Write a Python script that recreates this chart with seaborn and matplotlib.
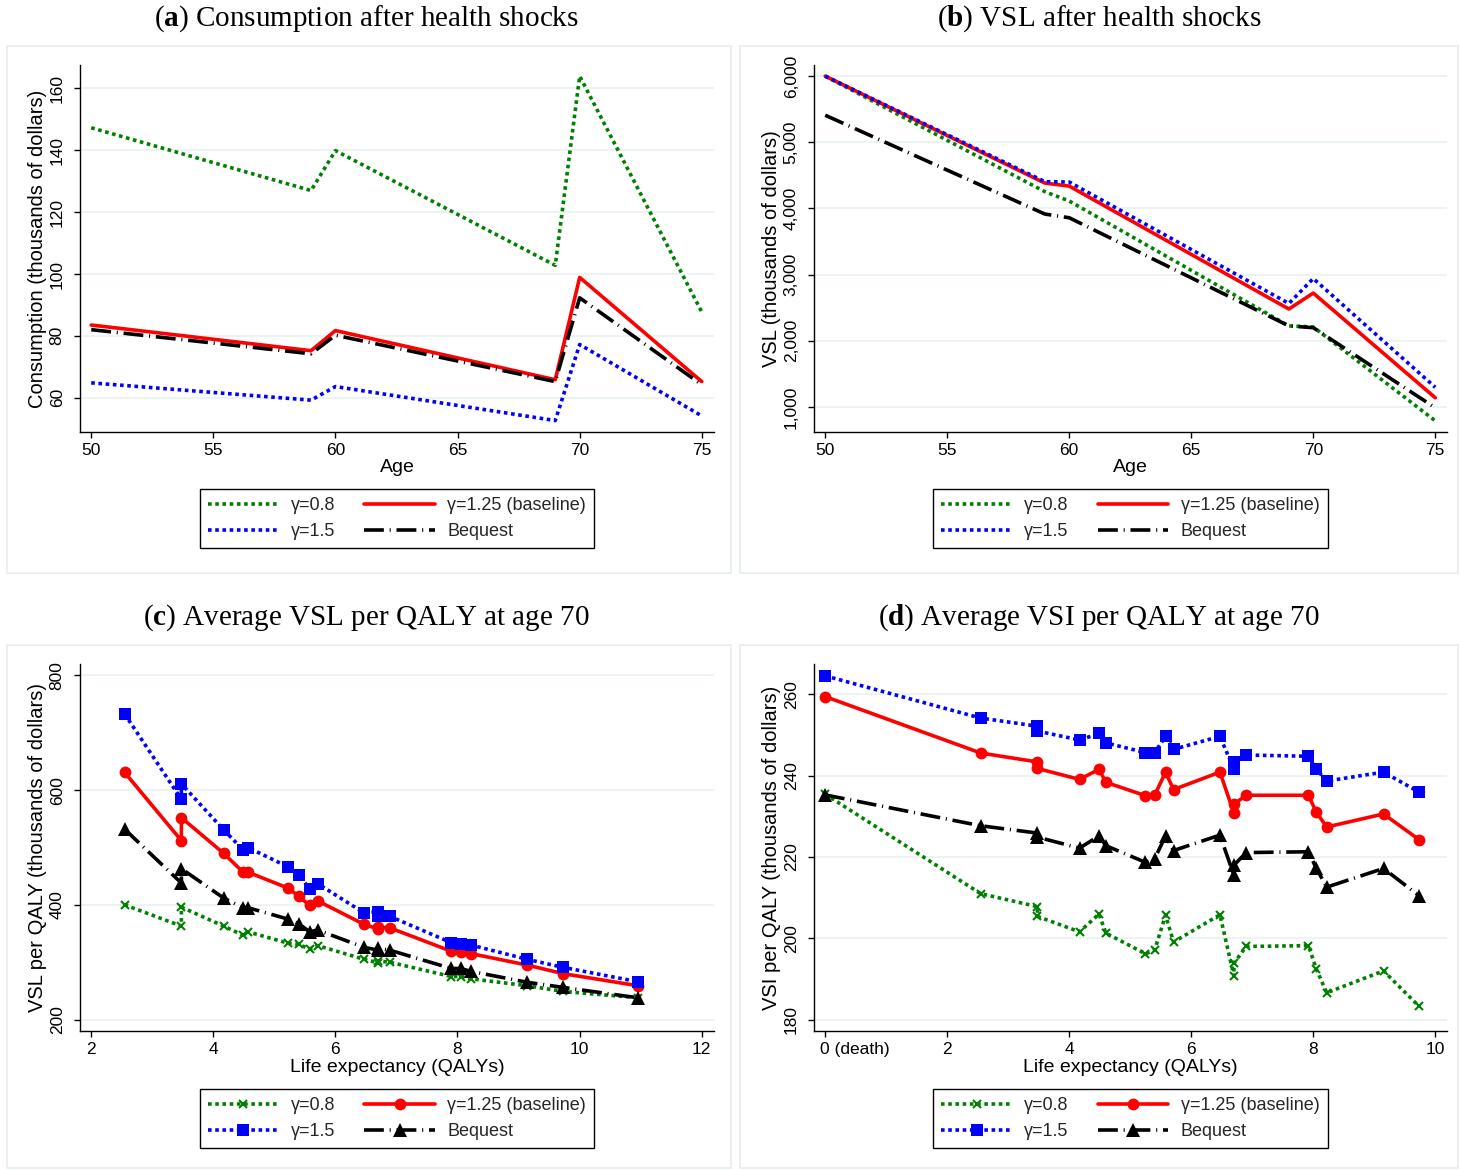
import matplotlib
matplotlib.use("Agg")
import matplotlib.pyplot as plt
import matplotlib.transforms as mtransforms
from matplotlib.patches import Rectangle
from matplotlib.ticker import StrMethodFormatter
import seaborn as sns

W, H = 1461, 1170

# (a) consumption and (b) VSL after health shocks, by age
AGE = [50, 59, 60, 69, 70, 75]
CONS_G08 = [147.3, 127.0, 139.9, 102.8, 164.0, 87.7]
CONS_G125 = [83.5, 75.2, 81.7, 65.8, 98.9, 65.2]
CONS_G15 = [64.8, 59.2, 63.6, 52.6, 77.2, 54.1]
CONS_BEQ = [82.0, 74.2, 80.2, 65.2, 92.3, 64.2]

VSL_G08 = [6000, 4254, 4113, 2226, 2210, 792]
VSL_G125 = [6000, 4384, 4338, 2481, 2722, 1140]
VSL_G15 = [6000, 4406, 4400, 2565, 2942, 1298]
VSL_BEQ = [5409, 3916, 3860, 2226, 2199, 988]

# (c) average VSL per QALY at age 70
QALY_C = [2.55, 3.48, 3.48, 4.17, 4.49, 4.57, 5.23, 5.40, 5.58, 5.71,
          6.47, 6.70, 6.70, 6.89, 7.90, 8.05, 8.22, 9.14, 9.73, 10.95]
VSLQ_G08 = [400, 363, 396, 363, 347, 353, 333, 331, 323, 329,
            305, 299, 302, 300, 275, 275, 271, 259, 249, 238]
VSLQ_G125 = [631, 512, 552, 490, 457, 457, 429, 415, 399, 407,
             366, 358, 361, 360, 319, 318, 315, 295, 280, 259]
VSLQ_G15 = [733, 584, 611, 531, 496, 500, 466, 452, 428, 437,
            386, 388, 381, 380, 334, 332, 330, 305, 291, 266]
VSLQ_BEQ = [532, 438, 463, 412, 395, 395, 375, 367, 353, 356,
            326, 321, 324, 321, 289, 289, 284, 265, 256, 238]

# (d) average VSI per QALY at age 70
QALY_D = [0, 2.55, 3.48, 3.48, 4.17, 4.49, 4.60, 5.25, 5.40, 5.58,
          5.71, 6.47, 6.70, 6.70, 6.90, 7.92, 8.05, 8.22, 9.15, 9.73]
VSI_G08 = [235.5, 211.0, 207.8, 205.4, 201.6, 206.0, 201.3, 196.2, 197.1, 205.7,
           199.1, 205.8, 190.7, 193.9, 198.0, 198.2, 192.4, 186.6, 192.0, 183.3]
VSI_G125 = [259.5, 245.6, 243.4, 241.8, 239.1, 241.6, 238.4, 235.1, 235.2, 240.9,
            236.6, 240.9, 230.8, 233.0, 235.2, 235.2, 231.0, 227.4, 230.6, 224.3]
VSI_G15 = [264.6, 254.2, 252.2, 251.0, 248.8, 250.4, 248.1, 245.7, 245.7, 249.7,
           246.5, 249.7, 241.6, 243.4, 245.1, 244.8, 241.6, 238.7, 240.9, 236.0]
VSI_BEQ = [235.3, 227.7, 225.9, 224.9, 222.2, 225.2, 222.8, 218.7, 219.6, 225.2,
           221.6, 225.4, 215.5, 218.0, 221.1, 221.3, 217.2, 212.6, 217.2, 210.5]

LABELS = {"g08": "γ=0.8", "g125": "γ=1.25 (baseline)", "g15": "γ=1.5", "beq": "Bequest"}
STYLES = {
    "g08": dict(color="#008000", ls=(0, (1, 1)), marker="x", ms=6, mew=1.5),
    "g125": dict(color="#ff0000", ls="-", marker="o", ms=8.5, mew=0),
    "g15": dict(color="#0000ff", ls=(0, (1, 1)), marker="s", ms=8.5, mew=0),
    "beq": dict(color="black", ls=(0, (5.5, 1.6, 0.3, 1.6)), marker="^", ms=9.5, mew=0),
}
LW = 2.6


def rect(x0, y0, x1, y1):
    return [x0 / W, 1 - y1 / H, (x1 - x0) / W, (y1 - y0) / H]


def draw_panel(ax, x, series, markers):
    lines = {}
    for key in ["g08", "g125", "g15", "beq"]:
        st = STYLES[key]
        kw = dict(color=st["color"], linewidth=LW, linestyle=st["ls"])
        if markers:
            kw.update(marker=st["marker"], markersize=st["ms"], markeredgewidth=st["mew"],
                      markeredgecolor=st["color"], markerfacecolor=st["color"])
        sns.lineplot(x=x, y=series[key], ax=ax, sort=False, estimator=None, **kw)
        lines[key] = ax.lines[-1]
        lines[key].set_label(LABELS[key])
    order = ["g08", "g15", "g125", "beq"]
    leg = ax.legend([lines[k] for k in order], [LABELS[k] for k in order],
                    ncol=2, loc="upper center", fontsize=13, frameon=True,
                    fancybox=False, edgecolor="black", framealpha=1,
                    handlelength=3.9, handletextpad=0.7, columnspacing=1.6,
                    labelspacing=0.5, borderpad=0.45, borderaxespad=0, numpoints=1)
    leg.get_frame().set_linewidth(1.0)
    return leg


def style_axes(ax, xlim, ylim, xticks, yticks, xlabel, ylabel):
    ax.set_xlim(*xlim)
    ax.set_ylim(*ylim)
    ax.set_xticks(xticks)
    ax.set_yticks(yticks)
    ax.set_xlabel(xlabel, fontsize=14, labelpad=1, color="black")
    ax.set_ylabel(ylabel, fontsize=14.5, labelpad=2, color="black")
    ax.grid(axis="y", color="#eaf2f3", lw=1.3)
    ax.set_axisbelow(True)
    for s in ("top", "right"):
        ax.spines[s].set_visible(False)
    for s in ("left", "bottom"):
        ax.spines[s].set_color("black")
        ax.spines[s].set_linewidth(1.0)
    ax.tick_params(axis="both", direction="out", length=4, width=1, color="black",
                   labelsize=12.5, labelcolor="black", left=True, bottom=True)
    ax.tick_params(axis="y", labelrotation=90, pad=7)
    ax.tick_params(axis="x", pad=4)
    plt.setp(ax.get_yticklabels(), va="center")


def main():
    sns.set_theme(style="ticks")
    plt.rcParams["font.family"] = ["Liberation Sans", "DejaVu Sans"]
    plt.rcParams["mathtext.fontset"] = "custom"
    plt.rcParams["mathtext.rm"] = "Liberation Serif"
    plt.rcParams["mathtext.bf"] = "Liberation Serif:bold"

    fig = plt.figure(figsize=(W / 100, H / 100), dpi=100)
    fig.patch.set_facecolor("white")

    # panel frames
    for x0, y0, x1, y1 in [(7, 46, 731, 573), (740, 46, 1458, 573),
                           (7, 645, 731, 1168), (740, 645, 1458, 1168)]:
        fig.add_artist(Rectangle((x0 / W, 1 - y1 / H), (x1 - x0) / W, (y1 - y0) / H,
                                 transform=fig.transFigure, fill=False,
                                 edgecolor="#e6eef0", lw=1.2))

    titles = [(366, 19, r"($\mathbf{a}$) Consumption after health shocks"),
              (1099, 19, r"($\mathbf{b}$) VSL after health shocks"),
              (366, 618, r"($\mathbf{c}$) Average VSL per QALY at age 70"),
              (1099, 618, r"($\mathbf{d}$) Average VSI per QALY at age 70")]
    for x, y, t in titles:
        fig.text(x / W, 1 - y / H, t, ha="center", va="center", fontsize=21,
                 family="Liberation Serif", color="black")

    # (a)
    ax = fig.add_axes(rect(80, 65, 714, 432))
    leg = draw_panel(ax, AGE, {"g08": CONS_G08, "g125": CONS_G125,
                               "g15": CONS_G15, "beq": CONS_BEQ}, False)
    leg.set_bbox_to_anchor((397 / W, 1 - 489 / H), transform=fig.transFigure)
    style_axes(ax, (49.54, 75.5), (48.9, 167.6), range(50, 76, 5), range(60, 161, 20),
               "Age", "Consumption (thousands of dollars)")

    # (b)
    ax = fig.add_axes(rect(814, 65, 1447, 432))
    leg = draw_panel(ax, AGE, {"g08": VSL_G08, "g125": VSL_G125,
                               "g15": VSL_G15, "beq": VSL_BEQ}, False)
    leg.set_bbox_to_anchor((1130.5 / W, 1 - 489 / H), transform=fig.transFigure)
    style_axes(ax, (49.54, 75.48), (623, 6168), range(50, 76, 5), range(1000, 6001, 1000),
               "Age", "VSL (thousands of dollars)")
    ax.yaxis.set_major_formatter(StrMethodFormatter("{x:,.0f}"))
    plt.setp(ax.get_yticklabels(), va="center")

    # (c)
    ax = fig.add_axes(rect(80, 664, 714, 1031))
    leg = draw_panel(ax, QALY_C, {"g08": VSLQ_G08, "g125": VSLQ_G125,
                                  "g15": VSLQ_G15, "beq": VSLQ_BEQ}, True)
    leg.set_bbox_to_anchor((397 / W, 1 - 1089 / H), transform=fig.transFigure)
    style_axes(ax, (1.82, 12.2), (180, 820), range(2, 13, 2), range(200, 801, 200),
               "Life expectancy (QALYs)", "VSL per QALY (thousands of dollars)")

    # (d)
    ax = fig.add_axes(rect(814, 664, 1447, 1031))
    leg = draw_panel(ax, QALY_D, {"g08": VSI_G08, "g125": VSI_G125,
                                  "g15": VSI_G15, "beq": VSI_BEQ}, True)
    leg.set_bbox_to_anchor((1130.5 / W, 1 - 1089 / H), transform=fig.transFigure)
    style_axes(ax, (-0.18, 10.19), (177.2, 267.5), range(0, 11, 2), range(180, 261, 20),
               "Life expectancy (QALYs)", "VSI per QALY (thousands of dollars)")
    ax.set_xticks(range(0, 11, 2), labels=["0 (death)", "2", "4", "6", "8", "10"])
    first = ax.get_xticklabels()[0]
    first.set_ha("left")
    first.set_transform(first.get_transform()
                        + mtransforms.ScaledTranslation(-3.4 / 72, 0, fig.dpi_scale_trans))

    fig.savefig("out.png", dpi=100, facecolor="white")
    plt.close(fig)


if __name__ == "__main__":
    main()
